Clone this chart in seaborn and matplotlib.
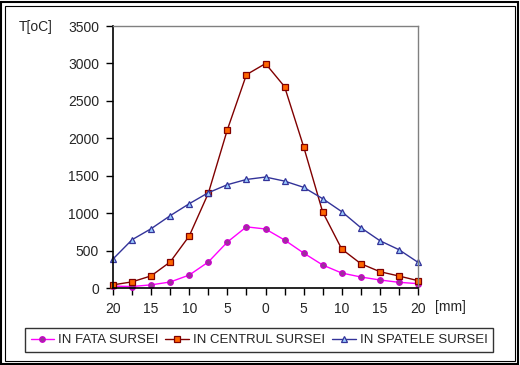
import numpy as np
import pandas as pd
import matplotlib
matplotlib.use('Agg')
import matplotlib.pyplot as plt
import seaborn as sns
from matplotlib.patches import Rectangle

sns.set_style('white')
plt.rcParams['font.family'] = ['Liberation Sans', 'DejaVu Sans']

# pozitia [mm] fata de sursa
x_mm = [-20, -17.5, -15, -12.5, -10, -7.5, -5, -2.5, 0,
        2.5, 5, 7.5, 10, 12.5, 15, 17.5, 20]
x_labels = ['20', '15', '10', '5', '0', '5', '10', '15', '20']
x_label_pos = [-20, -15, -10, -5, 0, 5, 10, 15, 20]

fata = [25, 20, 42, 80, 173, 347, 614, 817, 788,
        641, 467, 307, 200, 147, 107, 76, 58]
centru = [42, 82, 162, 348, 695, 1265, 2115, 2850, 2998,
          2690, 1888, 1015, 520, 325, 218, 160, 98]
spate = [387, 645, 792, 966, 1126, 1273, 1380, 1450, 1482,
         1428, 1345, 1193, 1020, 806, 632, 512, 343]

series = [
    ('IN FATA SURSEI', fata, '#FF00FF', 'o', '#993399', '#CC00CC', 4.0),
    ('IN CENTRUL SURSEI', centru, '#800000', 's', '#FF6600', '#800000', 4.6),
    ('IN SPATELE SURSEI', spate, '#333399', '^', '#99CCFF', '#333399', 5.0),
]

fig = plt.figure(figsize=(5.2, 3.65), dpi=100)
ax = fig.add_axes([113/520, 1-288/365, (418-113)/520, (288-26)/365])

for name, vals, col, mk, mfc, mec, ms in series:
    df = pd.DataFrame({'x': x_mm, 'T': vals})
    sns.lineplot(data=df, x='x', y='T', ax=ax, color=col, lw=1.0,
                 marker=mk, markersize=ms, markerfacecolor=mfc,
                 markeredgecolor=mec, markeredgewidth=0.9, label=name)

ax.set_xlim(-20, 20)
ax.set_ylim(0, 3500)
ax.set_yticks(range(0, 3501, 500))
ax.set_xticks(x_mm, minor=True)
ax.set_xticks(x_label_pos)
ax.set_xticklabels(x_labels)
ax.set_xlabel('')
ax.set_ylabel('')
ax.tick_params(axis='both', which='both', direction='out', length=5,
               width=1, color='black', labelsize=10, pad=5,
               bottom=True, left=True)
ax.tick_params(axis='x', which='minor', labelbottom=False)
for s in ['left', 'bottom']:
    ax.spines[s].set_color('black')
    ax.spines[s].set_linewidth(1.2)
for s in ['top', 'right']:
    ax.spines[s].set_color('#808080')
    ax.spines[s].set_linewidth(1.0)
for ln in ax.lines:
    ln.set_clip_on(False)

fig.text(36/520, 1-27/365, 'T[oC]', fontsize=10, ha='center', va='center')
fig.text(450/520, 1-307/365, '[mm]', fontsize=10, ha='center', va='center')

leg = ax.legend(loc='center', bbox_to_anchor=(259/520, 1-340/365),
                bbox_transform=fig.transFigure, ncol=3, frameon=True,
                fancybox=False, fontsize=9.5, handlelength=1.8,
                handletextpad=0.3, columnspacing=0.5, borderpad=0.45,
                borderaxespad=0)
leg.get_frame().set_edgecolor('black')
leg.get_frame().set_linewidth(1.0)

# chenar dublu in jurul graficului
fig.patches.append(Rectangle((1/520, 1/365), 517/520, 362/365, fill=False,
                             ec='black', lw=1.5, transform=fig.transFigure))
fig.patches.append(Rectangle((4.5/520, 4.5/365), 510/520, 355/365, fill=False,
                             ec='black', lw=0.8, transform=fig.transFigure))

fig.savefig('out.png', dpi=100)
